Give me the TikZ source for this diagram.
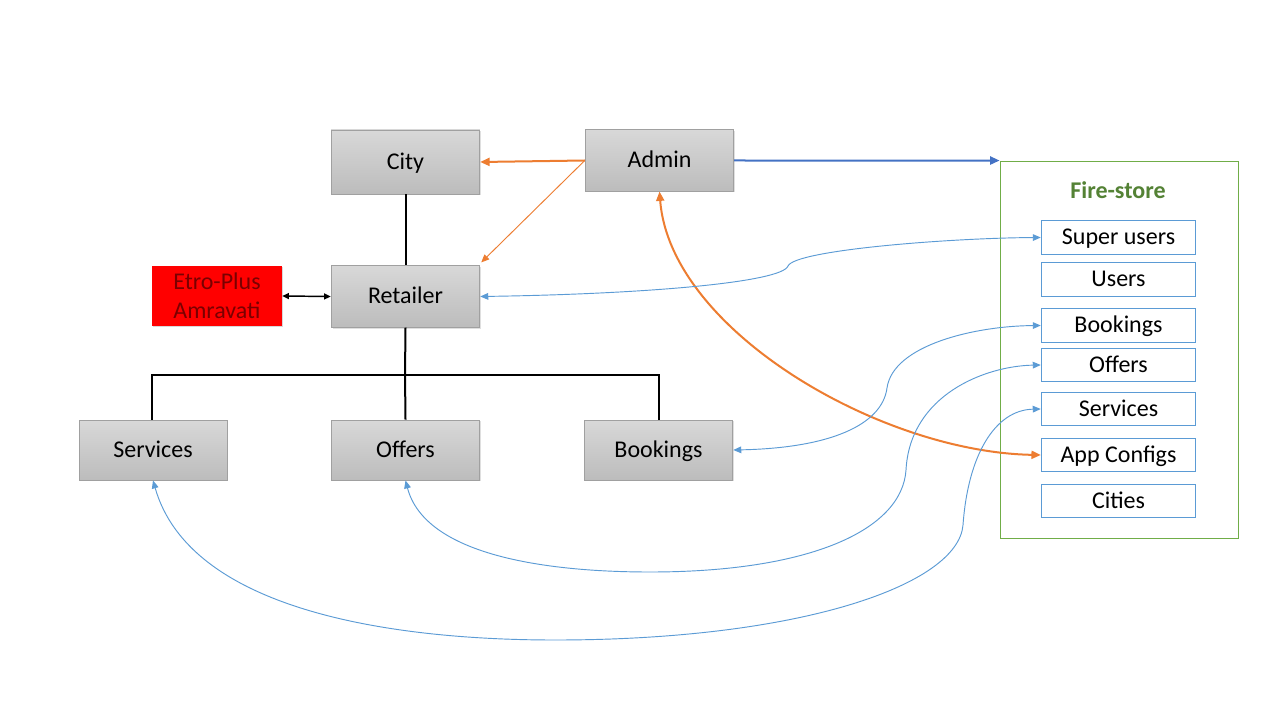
\documentclass[tikz,border=0pt]{standalone}
\usepackage{fontspec}
\setmainfont{Carlito}
\usetikzlibrary{arrows.meta,shadows,calc}
\definecolor{lblue}{HTML}{5B9BD5}
\definecolor{dblue}{HTML}{4472C4}
\definecolor{orng}{HTML}{ED7D31}
\definecolor{fgreen}{HTML}{70AD47}
\definecolor{tgreen}{HTML}{548235}
\definecolor{gtop}{HTML}{D8D8D8}
\definecolor{gbot}{HTML}{BCBCBC}
\definecolor{gbord}{HTML}{A0A0A0}
\definecolor{dred}{HTML}{7A0000}
\tikzset{
  txt/.style={font=\fontsize{18}{20}\selectfont, text height=11.5pt, text depth=0.7pt},
  graybox/.style={txt, draw=gbord, line width=0.6pt, top color=gtop, bottom color=gbot,
    minimum width=111.5pt, minimum height=46pt, inner sep=0pt,
    drop shadow={shadow xshift=1pt, shadow yshift=-1pt, opacity=0.25}},
  storebox/.style={txt, draw=lblue, line width=0.6pt, fill=white, minimum width=116pt,
    minimum height=25pt, inner sep=0pt},
  blk/.style={line width=1.5pt, black},
  blue arrow/.style={lblue, line width=0.7pt, {Triangle[length=6pt,width=5pt]}-{Triangle[length=6pt,width=5pt]}},
}
\begin{document}
\begin{tikzpicture}[x=0.75pt,y=-0.75pt]
\useasboundingbox (0,0) rectangle (1280,720);
\fill[white] (0,0) rectangle (1280,720);

% main boxes
\node[graybox, minimum height=48pt] (city) at (405.5,162) {City};
\node[graybox] (admin) at (659.5,160.5) {Admin};
\node[graybox] (retailer) at (405.5,296.5) {Retailer};
\node[draw=none, fill=red, minimum width=97.5pt, minimum height=45pt, inner sep=0pt,
  text=dred, font=\fontsize{18}{22}\selectfont, align=center,
  drop shadow={shadow xshift=1pt, shadow yshift=-1pt, opacity=0.3}] (etro) at (217,296)
  {Etro-Plus\\Amravati};
\node[graybox, minimum width=111pt, minimum height=45pt] (services) at (153,450) {Services};
\node[graybox, minimum height=45pt] (offers) at (405.5,450) {Offers};
\node[graybox, minimum height=45pt] (bookings) at (658.5,450) {Bookings};

% Fire-store
\node[draw=fgreen, line width=0.7pt, minimum width=178.5pt, minimum height=282.75pt, inner sep=0pt] (store) at (1119,349.5) {};
\node[txt, text=tgreen, font=\bfseries\fontsize{18}{20}\selectfont] (storelabel) at (1118,191) {Fire-store};
\node[storebox] (super) at (1118.5,237.5) {Super users};
\node[storebox] (users) at (1118.5,279.5) {Users};
\node[storebox] (sbook) at (1118.5,325.5) {Bookings};
\node[storebox] (soffer) at (1118.5,365) {Offers};
\node[storebox] (sserv) at (1118.5,409) {Services};
\node[storebox] (sapp) at (1118.5,455) {App Configs};
\node[storebox] (scity) at (1118.5,501) {Cities};

% tree lines
\coordinate (busL) at (152,375);
\coordinate (busR) at (659,375);
\coordinate (busM) at (405,375);
\draw[blk] (city.south) -- (retailer.north);
\draw[blk] (retailer.south) -- (busM);
\draw[blk] (services.north -| busL) -- (busL) -- (busR) -- (bookings.north -| busR);
\draw[blk] (busM) -- (offers.north);
\draw[black, line width=1.1pt, {Triangle[length=5pt,width=4.5pt]}-{Triangle[length=5pt,width=4.5pt]}] (etro.east) -- (retailer.west);

% admin arrows
\draw[orng, line width=1.5pt, -{Triangle[length=7pt,width=6pt]}] (admin.west) -- (city.east);
\draw[orng, line width=0.7pt, -{Triangle[length=6pt,width=5pt]}] (admin.west) -- ($(retailer.north east)+(1,-3)$);
\draw[dblue, line width=1.5pt, -{Triangle[length=7pt,width=6pt]}] (admin.east) -- (store.north west);
\draw[orng, line width=1.5pt, {Triangle[length=7pt,width=6pt]}-{Triangle[length=7pt,width=6pt]}]
  (admin.south) .. controls (670,330) and (880,452) .. (sapp.west);

% blue curves
\coordinate (b1) at (788,266);
\draw[blue arrow] (retailer.east) .. controls (650,294) and (782,282) .. (b1)
  .. controls (795,250) and (950,238) .. (super.west);
\coordinate (b2) at (887,388);
\draw[blue arrow] (bookings.east) .. controls (830,448) and (882,425) .. (b2)
  .. controls (893,345) and (975,326) .. (sbook.west);
\coordinate (b3a) at (650,572);
\coordinate (b3b) at (906,470);
\draw[blue arrow] (offers.south) .. controls (425,555) and (545,572) .. (b3a)
  .. controls (810,572) and (902,530) .. (b3b)
  .. controls (910,395) and (985,366) .. (soffer.west);
\coordinate (b4a) at (555,640);
\coordinate (b4b) at (963,525);
\draw[blue arrow] (services.south) .. controls (190,610) and (390,640) .. (b4a)
  .. controls (800,640) and (958,585) .. (b4b)
  .. controls (968,455) and (995,410) .. (sserv.west);
\end{tikzpicture}
\end{document}
